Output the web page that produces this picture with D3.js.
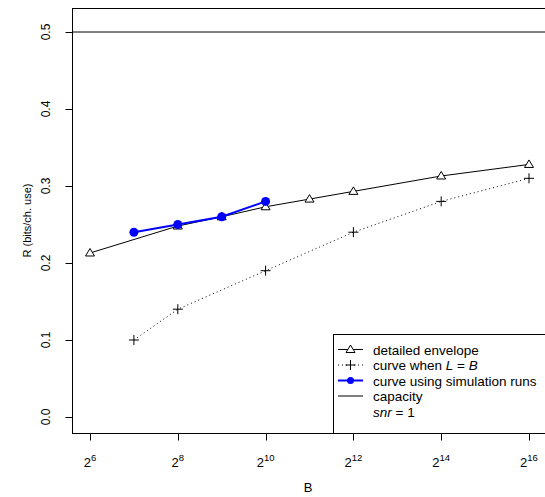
<!DOCTYPE html>
<html>
<head>
<meta charset="utf-8">
<script src="https://d3js.org/d3.v7.min.js"></script>
<style>
  body { margin: 0; background: #fff; }
  text { font-family: "Liberation Sans", Arial, sans-serif; }
</style>
</head>
<body>
<div id="chart"></div>
<script>
// values
var envB = [64, 256, 512, 1024, 2048, 4096, 16384, 65536];
var envR = [0.213, 0.248, 0.260, 0.273, 0.283, 0.293, 0.313, 0.328];
var lbB = [128, 256, 1024, 4096, 16384, 65536];
var lbR = [0.100, 0.140, 0.190, 0.240, 0.280, 0.310];
var simB = [128, 256, 512, 1024];
var simR = [0.240, 0.250, 0.260, 0.280];
var capacity = 0.5;
var xTickExp = [6, 8, 10, 12, 14, 16];
var yTicks = [0, 0.1, 0.2, 0.3, 0.4, 0.5];

var width = 545, height = 497;
var box = { left: 72, top: 8, bottom: 433, right: 560 };

var svg = d3.select('#chart').append('svg')
    .attr('width', width)
    .attr('height', height);

var x = d3.scaleLog().base(2)
    .domain([64, 65536])
    .range([90, 529]);

var y = d3.scaleLinear()
    .domain([0, 0.5])
    .range([417, 32]);

// plot frame
svg.append('rect')
    .attr('x', box.left + 0.5).attr('y', box.top + 0.5)
    .attr('width', box.right - box.left).attr('height', box.bottom - box.top)
    .attr('fill', 'none').attr('stroke', '#000');

// y axis
var yAxis = svg.append('g').attr('transform', 'translate(' + (box.left + 0.5) + ',0)');
yAxis.selectAll('line').data(yTicks).enter().append('line')
    .attr('x1', -7).attr('x2', 0)
    .attr('y1', function(d) { return Math.round(y(d)) + 0.5; })
    .attr('y2', function(d) { return Math.round(y(d)) + 0.5; })
    .attr('stroke', '#000');
yAxis.selectAll('text').data(yTicks).enter().append('text')
    .attr('transform', function(d) { return 'translate(-23,' + y(d) + ') rotate(-90)'; })
    .attr('text-anchor', 'middle')
    .attr('font-size', 12)
    .text(function(d) { return d3.format('.1f')(d); });

// x axis
var xAxis = svg.append('g').attr('transform', 'translate(0,' + (box.bottom + 0.5) + ')');
xAxis.selectAll('line').data(xTickExp).enter().append('line')
    .attr('x1', function(d) { return Math.round(x(Math.pow(2, d))) + 0.5; })
    .attr('x2', function(d) { return Math.round(x(Math.pow(2, d))) + 0.5; })
    .attr('y1', 0).attr('y2', 7)
    .attr('stroke', '#000');
var xl = xAxis.selectAll('text').data(xTickExp).enter().append('text')
    .attr('x', function(d) { return x(Math.pow(2, d)); })
    .attr('y', 33)
    .attr('text-anchor', 'middle')
    .attr('font-size', 13);
xl.append('tspan').text('2');
xl.append('tspan').attr('dy', -6).attr('font-size', 9.5).text(function(d) { return d; });

// axis titles
svg.append('text')
    .attr('transform', 'translate(31,' + ((box.top + box.bottom) / 2) + ') rotate(-90)')
    .attr('text-anchor', 'middle').attr('font-size', 11)
    .text('R (bits/ch. use)');
svg.append('text')
    .attr('x', 308).attr('y', 492)
    .attr('text-anchor', 'middle').attr('font-size', 13)
    .text('B');

// capacity line
svg.append('line')
    .attr('x1', box.left).attr('x2', width)
    .attr('y1', y(capacity)).attr('y2', y(capacity))
    .attr('stroke', '#000').attr('stroke-width', 1);

var line = d3.line()
    .x(function(d) { return x(d[0]); })
    .y(function(d) { return y(d[1]); });

var env = d3.zip(envB, envR);
var lb = d3.zip(lbB, lbR);
var sim = d3.zip(simB, simR);

// small open triangle like R's pch=2
var tri = 'M0,-4.5L4.5,3L-4.5,3Z';

function plusPath(s) {
  return 'M' + (-s) + ',0H' + s + 'M0,' + (-s) + 'V' + s;
}

// L = B curve
svg.append('path').datum(lb)
    .attr('d', line).attr('fill', 'none')
    .attr('stroke', '#000').attr('stroke-dasharray', '1,3');
svg.selectAll('.plus').data(lb).enter().append('path')
    .attr('class', 'plus')
    .attr('transform', function(d) { return 'translate(' + x(d[0]) + ',' + y(d[1]) + ')'; })
    .attr('d', plusPath(5))
    .attr('stroke', '#000').attr('fill', 'none');

// detailed envelope
svg.append('path').datum(env)
    .attr('d', line).attr('fill', 'none').attr('stroke', '#000');
svg.selectAll('.tri').data(env).enter().append('path')
    .attr('class', 'tri')
    .attr('transform', function(d) { return 'translate(' + x(d[0]) + ',' + y(d[1]) + ')'; })
    .attr('d', tri)
    .attr('fill', '#fff').attr('stroke', '#000');

// simulation runs
svg.append('path').datum(sim)
    .attr('d', line).attr('fill', 'none')
    .attr('stroke', '#0000ff').attr('stroke-width', 2);
svg.selectAll('.dot').data(sim).enter().append('circle')
    .attr('class', 'dot')
    .attr('cx', function(d) { return x(d[0]); })
    .attr('cy', function(d) { return y(d[1]); })
    .attr('r', 4.5)
    .attr('fill', '#0000ff');

// legend
var lg = svg.append('g').attr('transform', 'translate(333,334)');
lg.append('rect')
    .attr('x', 0.5).attr('y', 0.5).attr('width', 240).attr('height', 99)
    .attr('fill', '#fff').attr('stroke', '#000');

var rows = [
  { label: 'detailed envelope', kind: 'env' },
  { label: 'curve when ', kind: 'lb' },
  { label: 'curve using simulation runs', kind: 'sim' },
  { label: 'capacity', kind: 'cap' },
  { label: '', kind: 'snr' }
];
var row = lg.selectAll('.row').data(rows).enter().append('g')
    .attr('transform', function(d, i) { return 'translate(0,' + (15.5 + i * 15.5) + ')'; });

row.filter(function(d) { return d.kind !== 'snr'; }).append('line')
    .attr('x1', 5).attr('x2', 30).attr('y1', 0).attr('y2', 0)
    .attr('stroke', function(d) { return d.kind === 'sim' ? '#0000ff' : '#000'; })
    .attr('stroke-width', function(d) { return d.kind === 'sim' ? 2 : 1; })
    .attr('stroke-dasharray', function(d) { return d.kind === 'lb' ? '1,3' : null; });
row.filter(function(d) { return d.kind === 'env'; }).append('path')
    .attr('transform', 'translate(17.5,0)').attr('d', tri)
    .attr('fill', '#fff').attr('stroke', '#000');
row.filter(function(d) { return d.kind === 'lb'; }).append('path')
    .attr('transform', 'translate(17.5,0)').attr('d', plusPath(5))
    .attr('stroke', '#000');
row.filter(function(d) { return d.kind === 'sim'; }).append('circle')
    .attr('cx', 17.5).attr('cy', 0).attr('r', 3.5).attr('fill', '#0000ff');

var lt = row.append('text')
    .attr('x', 40).attr('y', 5).attr('font-size', 13.5);
lt.filter(function(d) { return d.kind !== 'snr' && d.kind !== 'lb'; })
    .text(function(d) { return d.label; });
var lbt = lt.filter(function(d) { return d.kind === 'lb'; });
lbt.append('tspan').text('curve when ');
lbt.append('tspan').attr('font-style', 'italic').text('L');
lbt.append('tspan').text(' = ');
lbt.append('tspan').attr('font-style', 'italic').text('B');
var snr = lt.filter(function(d) { return d.kind === 'snr'; });
snr.append('tspan').attr('font-style', 'italic').text('snr');
snr.append('tspan').text(' = 1');
</script>
</body>
</html>
